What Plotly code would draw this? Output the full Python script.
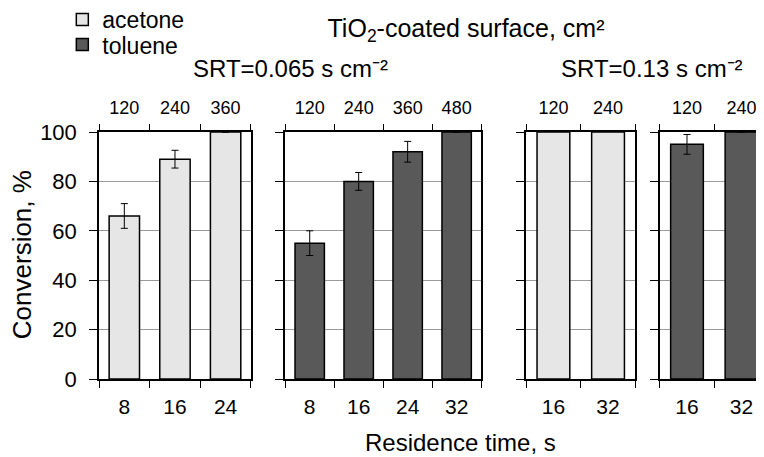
import plotly.graph_objects as go

# ---------------- data ----------------
time_065_acetone = ["8", "16", "24"]
surf_065_acetone = ["120", "240", "360"]
conv_065_acetone = [66, 89, 100]
err_065_acetone = [5, 3.6, 0]

time_065_toluene = ["8", "16", "24", "32"]
surf_065_toluene = ["120", "240", "360", "480"]
conv_065_toluene = [55, 80, 92, 100]
err_065_toluene = [5, 3.6, 4.2, 0]

time_013_acetone = ["16", "32"]
surf_013_acetone = ["120", "240"]
conv_013_acetone = [100, 100]

time_013_toluene = ["16", "32"]
surf_013_toluene = ["120", "240"]
conv_013_toluene = [95, 100]
err_013_toluene = [4, 0]

y_ticks = [0, 20, 40, 60, 80, 100]

# ---------------- style ----------------
FONT = "Liberation Sans, Arial, sans-serif"
ACE = "#e6e6e6"
TOL = "#595959"
OFF = 8  # page body margin
W, H = 764 - OFF, 457 - OFF
# plot area in page (reference) pixels
PL, PR, PT, PB = 98.7, 760, 132.3, 379
ML, MR, MT, MB = PL - OFF, W - (PR - OFF), PT - OFF, H - (PB - OFF)


def px(xr):
    return (xr - PL) / (PR - PL)


def py(yr):
    return (PB - yr) / (PB - PT)


def dom(a, b):
    return [px(a), px(b)]


domains = [dom(98.7, 250.7), dom(285, 481), dom(526, 635.3), dom(659.7, 760)]
xranges = [[-0.5, 2.5], [-0.5, 3.5], [-0.5, 1.5], [-0.5, 1.34]]

fig = go.Figure()

panels = [
    ("acetone", time_065_acetone, surf_065_acetone, conv_065_acetone, err_065_acetone, ACE, "legend"),
    ("toluene", time_065_toluene, surf_065_toluene, conv_065_toluene, err_065_toluene, TOL, "legend2"),
    ("acetone", time_013_acetone, surf_013_acetone, conv_013_acetone, None, ACE, None),
    ("toluene", time_013_toluene, surf_013_toluene, conv_013_toluene, err_013_toluene, TOL, None),
]

for i, (name, times, surfs, conv, err, col, leg) in enumerate(panels):
    k = i + 1
    xa = "x" if k == 1 else f"x{k}"
    ya = "y" if k == 1 else f"y{k}"
    ey = None
    if err is not None:
        ey = dict(type="data", array=err, visible=True, color="black", thickness=1, width=3.5)
    fig.add_trace(go.Bar(
        x=times, y=conv, name=name, legendgroup=name, showlegend=leg is not None,
        legend=leg if leg else "legend",
        marker=dict(color=col, line=dict(color="black", width=1.5)),
        width=0.6, error_y=ey, xaxis=xa, yaxis=ya, hoverinfo="skip",
    ))
    # invisible trace carrying the top (surface) categories
    fig.add_trace(go.Scatter(
        x=surfs, y=conv, mode="markers", marker=dict(opacity=0),
        showlegend=False, hoverinfo="skip", xaxis=f"x{k + 4}", yaxis=ya,
    ))

leg_common = dict(
    xref="paper", yref="paper", xanchor="left", yanchor="middle",
    bgcolor="rgba(0,0,0,0)", font=dict(size=23),
)
layout = dict(
    width=W, height=H,
    margin=dict(l=ML, r=MR, t=MT, b=MB, pad=0, autoexpand=False),
    paper_bgcolor="white", plot_bgcolor="white",
    font=dict(family=FONT, color="black", size=20),
    showlegend=True,
    legend=dict(x=px(62), y=py(20), **leg_common),
    legend2=dict(x=px(62), y=py(45), **leg_common),
    title=dict(
        text="TiO<sub>2</sub>-coated surface, cm²",
        x=(466 - OFF) / W, y=1 - (28 - OFF) / H, xref="container", yref="container",
        xanchor="center", yanchor="middle", font=dict(size=25),
    ),
)

for i in range(4):
    k = i + 1
    xk = "xaxis" if k == 1 else f"xaxis{k}"
    yk = "yaxis" if k == 1 else f"yaxis{k}"
    ya_ref = "y" if k == 1 else f"y{k}"
    xa_ref = "x" if k == 1 else f"x{k}"
    layout[xk] = dict(
        domain=domains[i], anchor=ya_ref, type="category", range=xranges[i],
        showline=True, mirror=True, linecolor="black", linewidth=1.5,
        ticks="outside", tickson="boundaries", ticklen=7, tickcolor="black", tickwidth=1,
        showgrid=False, zeroline=False, tickfont=dict(size=21), tickangle=0,
        ticklabelstandoff=8, automargin=False,
    )
    layout[f"xaxis{k + 4}"] = dict(
        overlaying=xa_ref, anchor=ya_ref, side="top", type="category", range=xranges[i],
        showline=False, ticks="outside", tickson="boundaries", ticklen=7,
        tickcolor="black", tickwidth=1, showgrid=False, zeroline=False,
        tickfont=dict(size=18), tickangle=0, ticklabelstandoff=13, automargin=False,
    )
    layout[yk] = dict(
        domain=[0, 1], anchor=xa_ref, range=[0, 100], tickvals=y_ticks,
        showline=True, mirror=True, linecolor="black", linewidth=1.5,
        ticks="outside", ticklen=8, tickcolor="black", tickwidth=1,
        showgrid=True, gridcolor="#9a9a9a", gridwidth=1, zeroline=False,
        showticklabels=(k == 1), tickfont=dict(size=22), automargin=False,
        ticklabelstandoff=8,
    )

layout["annotations"] = [
    dict(text="SRT=0.065 s cm⁻²", x=px(290), y=py(68.5),
         xref="paper", yref="paper", xanchor="center", yanchor="middle",
         showarrow=False, font=dict(size=24)),
    dict(text="SRT=0.13 s cm⁻²", x=px(652), y=py(68.5),
         xref="paper", yref="paper", xanchor="center", yanchor="middle",
         showarrow=False, font=dict(size=24)),
    dict(text="Residence time, s", x=px(460), y=py(456.5),
         xref="paper", yref="paper", xanchor="center", yanchor="bottom",
         showarrow=False, font=dict(size=24), borderpad=0),
    dict(text="Conversion, %", x=px(22), y=py(255), textangle=-90,
         xref="paper", yref="paper", xanchor="center", yanchor="middle",
         showarrow=False, font=dict(size=26)),
]

fig.update_layout(**layout)
fig.write_html("out.html")
